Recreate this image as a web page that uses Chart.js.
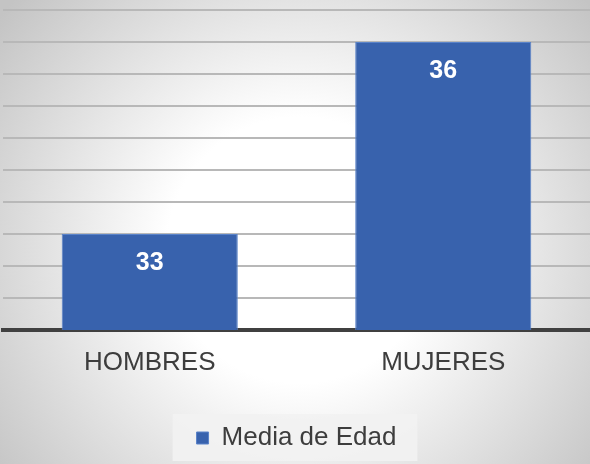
<!DOCTYPE html>
<html>
<head>
<meta charset="utf-8">
<script src="https://cdn.jsdelivr.net/npm/chart.js@4/dist/chart.umd.min.js"></script>
<style>
  html, body { margin: 0; padding: 0; background: #fff; }
  #wrap { width: 590px; height: 464px; position: relative; }
</style>
</head>
<body>
<div id="wrap"><canvas id="edadChart" width="590" height="464"></canvas></div>
<script>
(function () {
    'use strict';

    // ── Data ──────────────────────────────────────────────────────────────
    const categories  = ['HOMBRES', 'MUJERES'];
    const mediaEdad   = [33, 36];
    const seriesLabel = 'Media de Edad';

    // ── Theme tokens ──────────────────────────────────────────────────────
    const FONT     = "'Liberation Sans', Arial, sans-serif";
    const TEXT     = '#3d3d3d';
    const BAR      = '#3862ad';
    const BAR_EDGE = '#5a83c9';
    const GRID     = '#b8b8b8';
    const AXIS     = '#404040';

    // Soft radial backdrop + legend panel
    const backdrop = {
        id: 'backdrop',
        beforeDraw(chart) {
            const { ctx, width, height } = chart;
            ctx.save();
            const g = ctx.createRadialGradient(300, 250, 0, 300, 250, 380);
            g.addColorStop(0, '#ffffff');
            g.addColorStop(0.35, '#ffffff');
            g.addColorStop(1, '#c4c4c4');
            ctx.fillStyle = g;
            ctx.fillRect(0, 0, width, height);

            const hb = chart.legend && chart.legend.legendHitBoxes && chart.legend.legendHitBoxes[0];
            if (hb) {
                ctx.fillStyle = 'rgba(242,242,242,0.9)';
                ctx.fillRect(hb.left - 24, hb.top - 11, hb.width + 45, hb.height + 21);
            }
            ctx.restore();
        }
    };

    // Value labels inside the top of each bar
    const valueLabels = {
        id: 'valueLabels',
        afterDatasetsDraw(chart) {
            const { ctx } = chart;
            const meta = chart.getDatasetMeta(0);
            ctx.save();
            ctx.fillStyle = '#ffffff';
            ctx.font = 'bold 25px ' + FONT;
            ctx.textAlign = 'center';
            ctx.textBaseline = 'middle';
            meta.data.forEach((bar, i) => {
                ctx.fillText(String(mediaEdad[i]), bar.x, bar.y + 29);
            });
            ctx.restore();
        }
    };

    new Chart(document.getElementById('edadChart'), {
        type: 'bar',
        data: {
            labels: categories,
            datasets: [{
                label:              seriesLabel,
                data:               mediaEdad,
                backgroundColor:    BAR,
                borderColor:        BAR_EDGE,
                borderWidth:        1,
                categoryPercentage: 0.6,
                barPercentage:      1.0
            }]
        },
        options: {
            responsive: false,
            animation: false,
            layout: { padding: { left: 3, right: 0, top: 10, bottom: 3 } },
            plugins: {
                legend: {
                    position: 'bottom',
                    labels: {
                        color:     TEXT,
                        boxWidth:  12,
                        boxHeight: 12,
                        padding:   10,
                        font:      { family: FONT, size: 26 }
                    }
                },
                tooltip: { enabled: false }
            },
            scales: {
                x: {
                    z: 1,
                    grid:   { display: false, drawTicks: false },
                    border: { display: true, color: AXIS, width: 4 },
                    ticks:  { color: TEXT, padding: 17, font: { family: FONT, size: 26 } },
                    afterFit: scale => { scale.height = 85; }
                },
                y: {
                    min: 31.5,
                    max: 36.5,
                    border: { display: false },
                    grid: {
                        drawTicks: false,
                        color: ctx => ctx.tick && ctx.tick.value === 31.5 ? 'rgba(0,0,0,0)' : GRID,
                        lineWidth: 2
                    },
                    ticks: { display: false, stepSize: 0.5 }
                }
            }
        },
        plugins: [backdrop, valueLabels]
    });
})();
</script>
</body>
</html>
